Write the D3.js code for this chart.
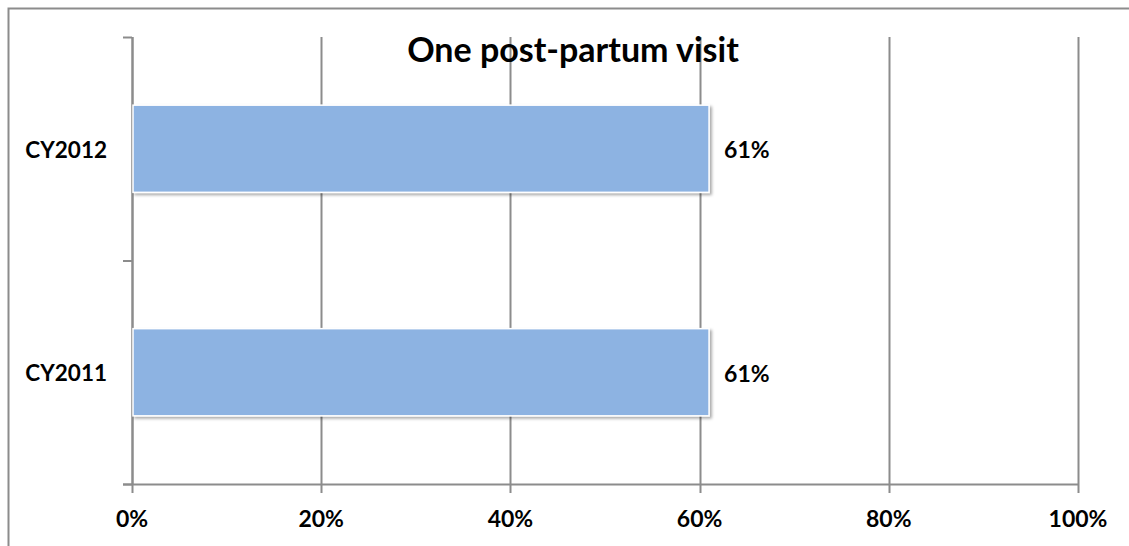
<!DOCTYPE html>
<html>
<head>
<meta charset="utf-8">
<script src="https://cdn.jsdelivr.net/npm/d3@7"></script>
<style>
  html, body { margin: 0; padding: 0; background: #fff; }
  svg { display: block; }
  text { font-family: Lato, "Open Sans", sans-serif; font-weight: bold; fill: #000; }
</style>
</head>
<body>
<svg id="chart" width="1129" height="546"></svg>
<script>
const title = "One post-partum visit";
const categories = ["CY2012", "CY2011"];
const values = [0.61, 0.61];
const valueLabels = ["61%", "61%"];
const xTicks = [0, 0.2, 0.4, 0.6, 0.8, 1.0];

const svg = d3.select("#chart");
const W = 1129, H = 546;
const margin = { left: 132, right: W - 1078, top: 37, bottom: H - 484 };

// Outer border
svg.append("rect")
  .attr("x", 8.5).attr("y", 8.5)
  .attr("width", W).attr("height", H)
  .attr("fill", "none").attr("stroke", "#8c8c8c").attr("stroke-width", 2);

const x = d3.scaleLinear().domain([0, 1]).range([margin.left, W - margin.right]);
const y = d3.scaleBand().domain(categories).range([margin.top, H - margin.bottom]).paddingInner(0.61).paddingOuter(0.305);

const defs = svg.append("defs");
const f = defs.append("filter").attr("id", "shadow").attr("x", "-5%").attr("y", "-20%").attr("width", "115%").attr("height", "150%");
f.append("feDropShadow").attr("dx", 2).attr("dy", 2).attr("stdDeviation", 1.8).attr("flood-color", "#000").attr("flood-opacity", 0.35);

// Gridlines
svg.append("g").selectAll("line").data(xTicks).join("line")
  .attr("x1", d => Math.round(x(d)) + 0.5).attr("x2", d => Math.round(x(d)) + 0.5)
  .attr("y1", margin.top).attr("y2", H - margin.bottom + 9)
  .attr("stroke", "#8c8c8c").attr("stroke-width", 2);

// Y axis
const yAxisG = svg.append("g");
yAxisG.append("line")
  .attr("x1", margin.left + 0.5).attr("x2", margin.left + 0.5)
  .attr("y1", margin.top).attr("y2", H - margin.bottom)
  .attr("stroke", "#8c8c8c").attr("stroke-width", 2);
const yTickPos = [margin.top, (margin.top + H - margin.bottom) / 2, H - margin.bottom];
yAxisG.selectAll("line.tk").data(yTickPos).join("line").attr("class", "tk")
  .attr("x1", margin.left - 9).attr("x2", margin.left)
  .attr("y1", d => d + 0.5).attr("y2", d => d + 0.5)
  .attr("stroke", "#8c8c8c").attr("stroke-width", 2);

// X axis line
svg.append("line")
  .attr("x1", margin.left - 9).attr("x2", W - margin.right + 1)
  .attr("y1", H - margin.bottom + 0.5).attr("y2", H - margin.bottom + 0.5)
  .attr("stroke", "#8c8c8c").attr("stroke-width", 2);

// Bars
svg.append("g").selectAll("rect").data(categories).join("rect")
  .attr("x", x(0) + 1)
  .attr("y", d => y(d))
  .attr("width", (d, i) => x(values[i]) - x(0) - 1)
  .attr("height", y.bandwidth())
  .attr("fill", "#8DB3E2")
  .attr("stroke", "#fff").attr("stroke-width", 1.5)
  .attr("filter", "url(#shadow)");

// Value labels
svg.append("g").selectAll("text").data(categories).join("text")
  .attr("x", (d, i) => x(values[i]) + 15)
  .attr("y", d => y(d) + y.bandwidth() / 2 + 9.5)
  .attr("font-size", 23)
  .text((d, i) => valueLabels[i]);

// Category labels
svg.append("g").selectAll("text").data(categories).join("text")
  .attr("x", 107)
  .attr("y", d => y(d) + y.bandwidth() / 2 + 9)
  .attr("text-anchor", "end")
  .attr("font-size", 22.5)
  .text(d => d);

// X tick labels
svg.append("g").selectAll("text").data(xTicks).join("text")
  .attr("x", d => x(d))
  .attr("y", 527)
  .attr("text-anchor", "middle")
  .attr("font-size", 23)
  .text(d => d3.format(".0%")(d));

// Title
svg.append("text")
  .attr("x", 573).attr("y", 62)
  .attr("text-anchor", "middle")
  .attr("font-size", 34)
  .text(title);
</script>
</body>
</html>
